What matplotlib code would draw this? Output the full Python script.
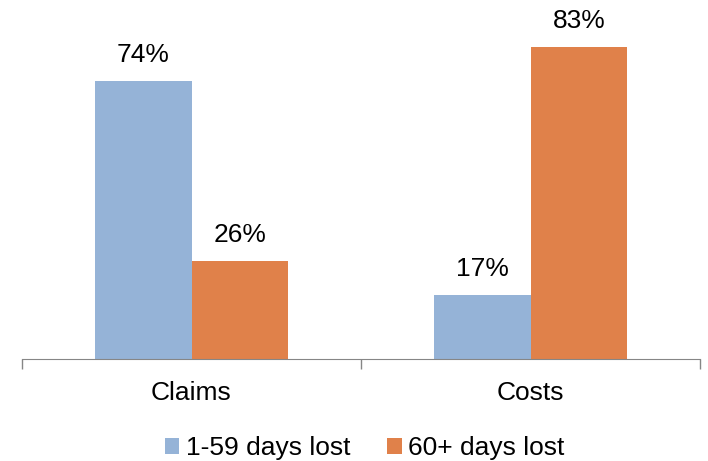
import numpy as np
import matplotlib
matplotlib.use("Agg")
import matplotlib.pyplot as plt

plt.rcParams['font.family'] = ['Liberation Sans', 'DejaVu Sans']

categories = ['Claims', 'Costs']
series_names = ['1-59 days lost', '60+ days lost']
short_loss = [74, 17]
long_loss = [26, 83]
colors = ['#95B3D7', '#E0814A']

fig = plt.figure(figsize=(7.08, 4.61), dpi=100)
ax = fig.add_axes([22/708, 1 - 359/461, 678/708, 338/461])

x = np.arange(len(categories))
width = 0.286
bars = []
for i, (vals, name) in enumerate(zip([short_loss, long_loss], series_names)):
    b = ax.bar(x + (i - 0.5) * width, vals, width, color=colors[i], label=name)
    bars.append(b)
    for rect, v in zip(b, vals):
        ax.annotate('{}%'.format(v), (rect.get_x() + rect.get_width() / 2, v),
                    xytext=(0, 10), textcoords='offset points',
                    ha='center', va='bottom', fontsize=19)

ax.set_xlim(-0.5, 1.5)
ax.set_ylim(0, 90)

## category boundaries as ticks, names in the middle
ax.set_xticks([-0.5, 0.5, 1.5])
ax.set_xticklabels([])
ax.set_xticks(x, minor=True)
ax.set_xticklabels(categories, minor=True, fontsize=19)
ax.tick_params(axis='x', which='major', length=7, color='#868686', width=1)
ax.tick_params(axis='x', which='minor', length=0, pad=16)
ax.set_yticks([])

for s in ['top', 'right', 'left']:
    ax.spines[s].set_visible(False)
ax.spines['bottom'].set_color('#868686')

fig.legend(handles=bars, labels=series_names, loc='lower center',
           bbox_to_anchor=(0.515, -0.05), ncol=2, frameon=False, fontsize=19,
           handlelength=0.55, handleheight=0.55, handletextpad=0.25,
           columnspacing=1.4)

fig.savefig('out.png', dpi=100)
